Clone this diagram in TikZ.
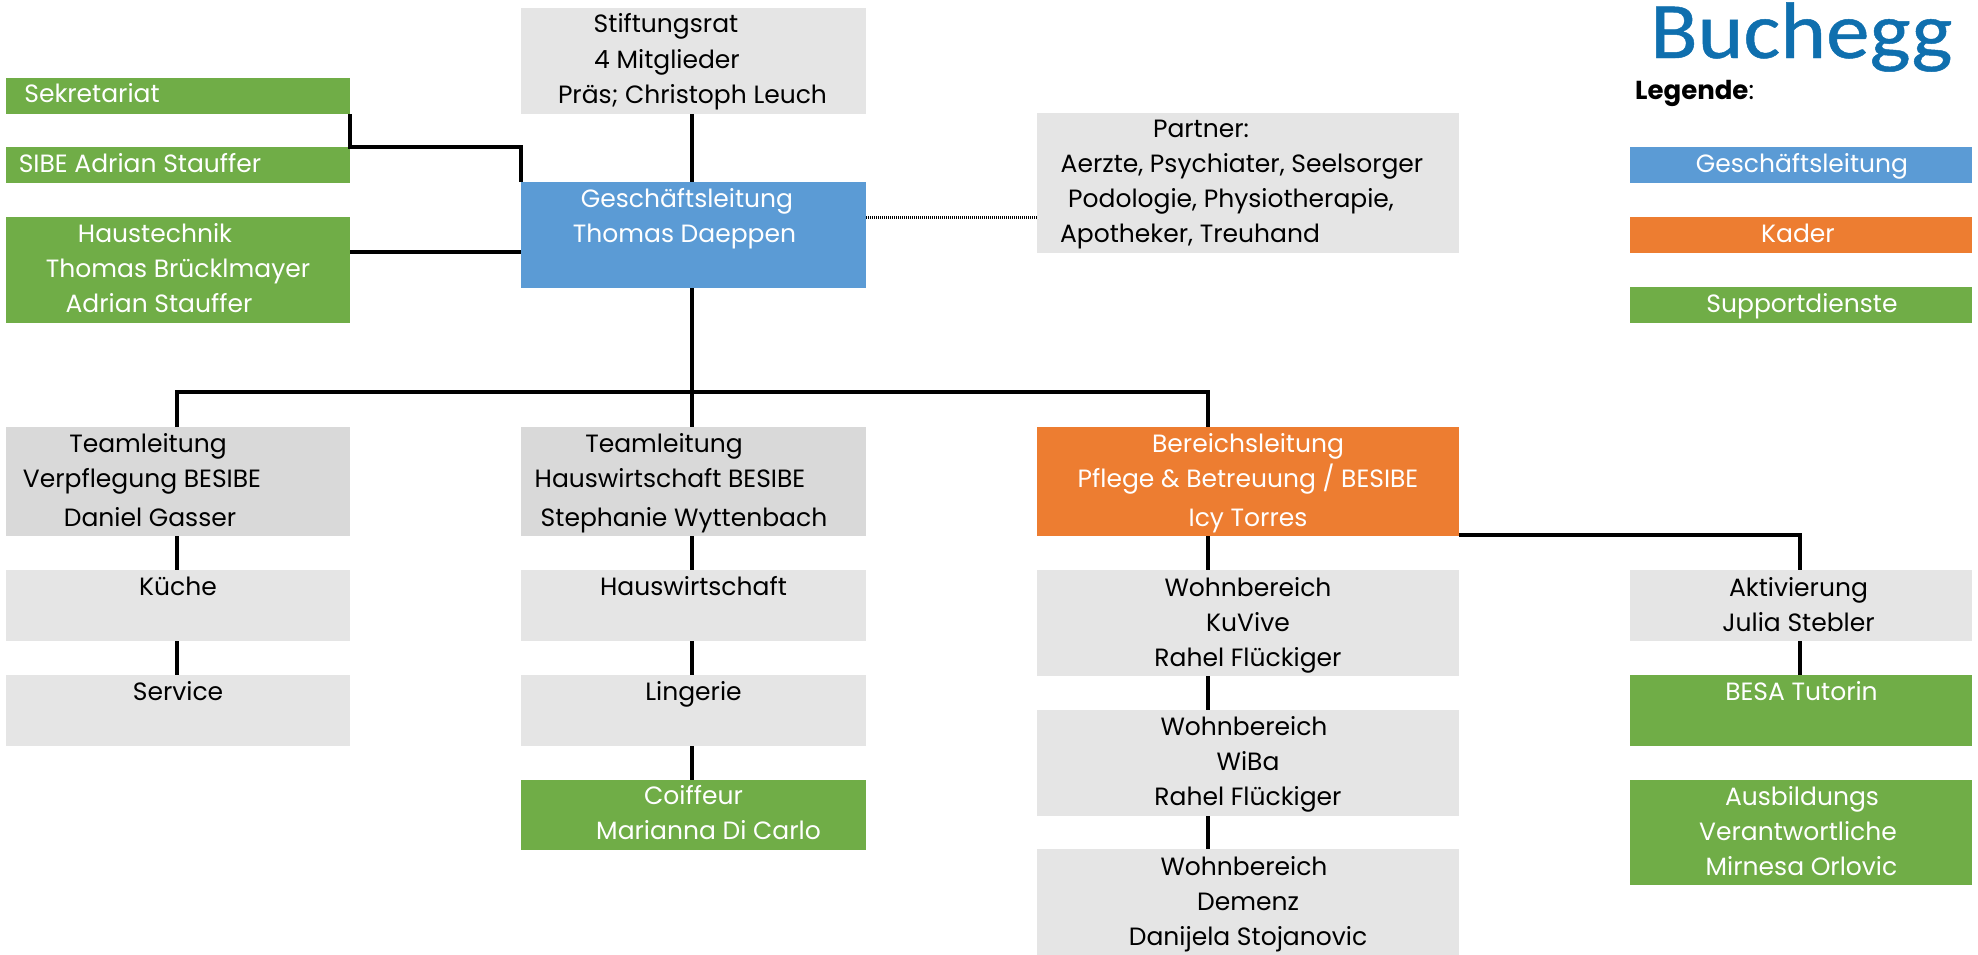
\documentclass[tikz,border=0pt]{standalone}
\usepackage{fontspec}
\setmainfont{Poppins}
\newfontfamily\logofont[FakeStretch=1.09,FakeBold=0.6]{Carlito}
\definecolor{lightgrey}{HTML}{E5E5E5}
\definecolor{midgrey}{HTML}{D9D9D9}
\definecolor{suppgreen}{HTML}{70AD47}
\definecolor{leadblue}{HTML}{5B9BD5}
\definecolor{kaderorange}{HTML}{ED7D31}
\definecolor{logoblue}{HTML}{0F6FAE}
\newcommand\zl[3]{\vbox to #1pt{\vss\hbox to\hsize{\hss\kern\dimexpr#2pt*2\relax\smash{#3}\hss}}}
\newcommand\zb[3]{\vbox to #2pt{\hsize=#1pt\offinterlineskip #3\vss}}
\tikzset{
  x=1pt,y=-1pt,
  orgbox/.style={anchor=north west,inner sep=0pt,outer sep=0pt,font=\fontsize{25}{35}\selectfont},
  greybox/.style={orgbox,fill=lightgrey,text=black},
  teambox/.style={orgbox,fill=midgrey,text=black},
  greenbox/.style={orgbox,fill=suppgreen,text=white},
  bluebox/.style={orgbox,fill=leadblue,text=white},
  orangebox/.style={orgbox,fill=kaderorange,text=white},
  link/.style={draw=black,line width=3.2pt,line join=miter},
  dottedlink/.style={draw=black,line width=3pt,dash pattern=on 1pt off 1pt}
}
\begin{document}
\begin{tikzpicture}
\useasboundingbox (0,0) rectangle (1978,954);
% top
\node[greybox] (stift) at (521,8) {\zb{345}{106}{\zl{24}{-27.5}{Stiftungsrat}\zl{36}{-26.5}{4 Mitglieder}\zl{35}{-1}{Präs; Christoph Leuch}}};
\node[greenbox] (sek) at (6,78) {\zb{344}{36}{\zl{24}{-86}{Sekretariat}}};
\node[greenbox] (sibe) at (6,147) {\zb{344}{36}{\zl{25}{-38}{SIBE Adrian Stauffer}}};
\node[greenbox] (haus) at (6,217) {\zb{344}{106}{\zl{25}{-23}{Haustechnik}\zl{35}{0}{Thomas Brücklmayer}\zl{35}{-19}{Adrian Stauffer}}};
\node[bluebox] (gl) at (521,182) {\zb{345}{106}{\zl{25}{-6.5}{Geschäftsleitung}\zl{35}{-9}{Thomas Daeppen}}};
\node[greybox] (partner) at (1037,113) {\zb{422}{140}{\zl{24}{-47}{Partner:}\zl{35}{-6}{Aerzte, Psychiater, Seelsorger}\zl{35}{-17}{Podologie, Physiotherapie,}\zl{35}{-58}{Apotheker, Treuhand}}};
% logo and legend
\node[anchor=base west,inner sep=0pt,text=logoblue,font=\logofont\fontsize{80}{80}\selectfont] (logo) at (1650,58) {Buchegg};
\node[anchor=base west,inner sep=0pt,font=\fontsize{26}{30}\selectfont] (legende) at (1635,99) {\textbf{Legende}:};
\node[bluebox] (lgl) at (1630,147) {\zb{342}{36}{\zl{25}{1}{Geschäftsleitung}}};
\node[orangebox] (lkader) at (1630,217) {\zb{342}{36}{\zl{25}{-3}{Kader}}};
\node[greenbox] (lsupp) at (1630,287) {\zb{342}{36}{\zl{25}{1}{Supportdienste}}};
% column 1
\node[teambox] (team1) at (6,427) {\zb{344}{109}{\zl{25}{-30}{Teamleitung}\zl{35}{-36}{Verpflegung BESIBE}\zl{39}{-28}{Daniel Gasser}}};
\node[greybox] (kueche) at (6,570) {\zb{344}{71}{\zl{25}{0}{Küche}}};
\node[greybox] (service) at (6,675) {\zb{344}{71}{\zl{25}{0}{Service}}};
% column 2
\node[teambox] (team2) at (521,427) {\zb{345}{109}{\zl{25}{-29.5}{Teamleitung}\zl{35}{-23.5}{Hauswirtschaft BESIBE}\zl{39}{-9.5}{Stephanie Wyttenbach}}};
\node[greybox] (hausw) at (521,570) {\zb{345}{71}{\zl{25}{0}{Hauswirtschaft}}};
\node[greybox] (linge) at (521,675) {\zb{345}{71}{\zl{25}{0}{Lingerie}}};
\node[greenbox] (coif) at (521,780) {\zb{345}{70}{\zl{24}{0}{Coiffeur}\zl{35}{15}{Marianna Di Carlo}}};
% column 3
\node[orangebox] (ber) at (1037,427) {\zb{422}{109}{\zl{25}{0}{Bereichsleitung}\zl{35}{0}{Pflege \& Betreuung / BESIBE}\zl{39}{0}{Icy Torres}}};
\node[greybox] (wb1) at (1037,570) {\zb{422}{106}{\zl{26}{0}{Wohnbereich}\zl{35}{0}{KuVive}\zl{35}{0}{Rahel Flückiger}}};
\node[greybox] (wb2) at (1037,710) {\zb{422}{106}{\zl{25}{-4}{Wohnbereich}\zl{35}{0}{WiBa}\zl{35}{0}{Rahel Flückiger}}};
\node[greybox] (wb3) at (1037,849) {\zb{422}{106}{\zl{26}{-4}{Wohnbereich}\zl{35}{0}{Demenz}\zl{35}{0}{Danijela Stojanovic}}};
% column 4
\node[greybox] (akt) at (1630,570) {\zb{342}{71}{\zl{26}{-2.5}{Aktivierung}\zl{35}{-2.5}{Julia Stebler}}};
\node[greenbox] (besa) at (1630,675) {\zb{342}{71}{\zl{25}{0.5}{BESA Tutorin}}};
\node[greenbox] (ausb) at (1630,780) {\zb{342}{105}{\zl{25}{1}{Ausbildungs}\zl{35}{-3}{Verantwortliche}\zl{35}{0.5}{Mirnesa Orlovic}}};
% connectors
\coordinate (trunk) at (692,392);
\coordinate (xa) at (177,392);
\coordinate (xc) at (1208,392);
\coordinate (xd) at (1800,535);
\coordinate (ylink) at (0,252);
\coordinate (ydot) at (0,217);
\draw[link] (stift.south -| trunk) -- (gl.north -| trunk);
\draw[link] (gl.south -| trunk) -- (team2.north -| trunk);
\draw[link] (team1.north -| xa) -- (xa) -- (xc) -- (ber.north -| xc);
\draw[link] (sek.south east) -- (sibe.north east) -- (sibe.north east -| gl.north west) -- (gl.north west);
\draw[link] (haus.east |- ylink) -- (gl.west |- ylink);
\draw[dottedlink] (gl.east |- ydot) -- (partner.west |- ydot);
\draw[link] (team1.south -| xa) -- (kueche.north -| xa);
\draw[link] (kueche.south -| xa) -- (service.north -| xa);
\draw[link] (team2.south -| trunk) -- (hausw.north -| trunk);
\draw[link] (hausw.south -| trunk) -- (linge.north -| trunk);
\draw[link] (linge.south -| trunk) -- (coif.north -| trunk);
\draw[link] (ber.south -| xc) -- (wb1.north -| xc);
\draw[link] (wb1.south -| xc) -- (wb2.north -| xc);
\draw[link] (wb2.south -| xc) -- (wb3.north -| xc);
\draw[link] (ber.east |- xd) -- (xd) -- (akt.north -| xd);
\draw[link] (akt.south -| xd) -- (besa.north -| xd);
\end{tikzpicture}
\end{document}
